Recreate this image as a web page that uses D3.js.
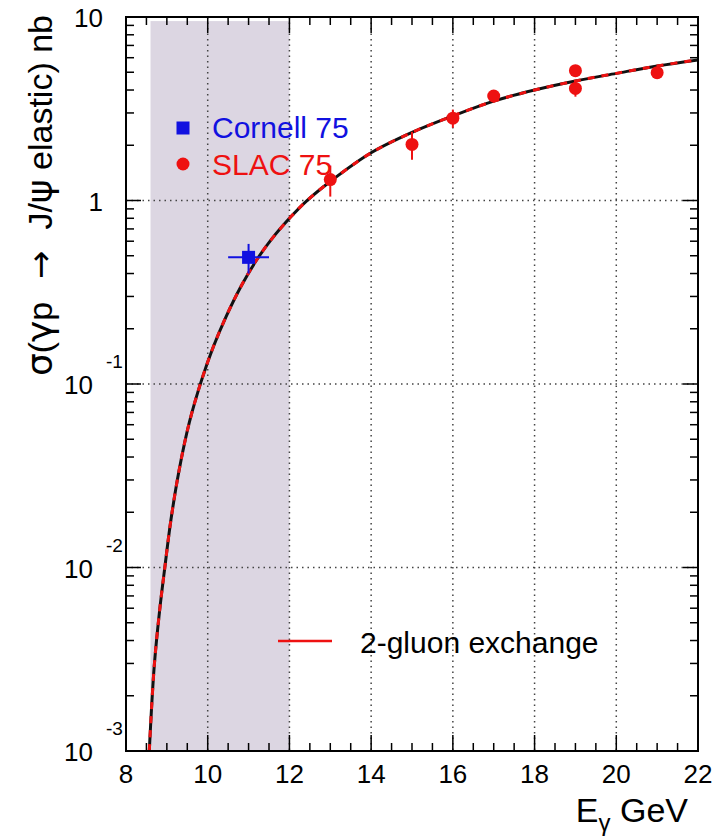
<!DOCTYPE html>
<html>
<head>
<meta charset="utf-8">
<script src="https://cdn.jsdelivr.net/npm/d3@7"></script>
<style>
  html, body { margin: 0; padding: 0; background: #fff; }
  svg { display: block; font-family: "Liberation Sans", Arial, Helvetica, sans-serif; }
</style>
</head>
<body>
<div id="chart"></div>
<script>
// data
const cornellE = [11];
const cornellSigma = [0.49];
const cornellErrE = [0.5];
const cornellErrSigma = [0.09];

const slacE = [13, 15, 16, 17, 19, 19, 21];
const slacSigma = [1.30, 2.02, 2.81, 3.71, 5.10, 4.08, 4.97];
const slacErrSigma = [0.25, 0.35, 0.32, 0.22, 0.3, 0.4, 0.2];

const gluonE = [8.57, 8.69, 8.82, 8.95, 9.10, 9.30, 9.55, 9.85, 10.14, 10.45, 10.81, 11.18, 11.55, 12.04, 12.41, 13, 14, 15, 16, 17, 18, 19, 20, 21, 22];
const gluonSigma = [0.001, 0.00288, 0.00575, 0.0100, 0.0182, 0.0339, 0.0617, 0.105, 0.160, 0.233, 0.339, 0.468, 0.610, 0.817, 0.99, 1.27, 1.82, 2.35, 2.89, 3.48, 4.0, 4.48, 4.93, 5.41, 5.84];

const bandE = [8.6, 12.0];
const bandTop = 9.5;

const xTickLabels = [8, 10, 12, 14, 16, 18, 20, 22];
const yDecades = [-3, -2, -1, 0, 1];

// layout
const width = 722, height = 840;
const pLeft = 126, pRight = 698, pTop = 17, pBottom = 751;
const red = '#ee1111', blue = '#1111e0';
const greek = '"DejaVu Sans", sans-serif';

let svg = d3.select('#chart').append('svg')
  .attr('width', width)
  .attr('height', height);

let x = d3.scaleLinear().domain([8, 22]).range([pLeft, pRight]);
let y = d3.scaleLog().domain([1e-3, 10]).range([pBottom, pTop]);

svg.append('clipPath').attr('id', 'plot-clip')
  .append('rect')
  .attr('x', pLeft).attr('y', pTop)
  .attr('width', pRight - pLeft).attr('height', pBottom - pTop);

// shaded band
svg.append('rect')
  .attr('x', x(bandE[0]))
  .attr('y', y(bandTop))
  .attr('width', x(bandE[1]) - x(bandE[0]))
  .attr('height', pBottom - y(bandTop))
  .attr('fill', '#dcd6e2');

// grid
let grid = svg.append('g')
  .attr('stroke', '#444')
  .attr('stroke-width', 1.5)
  .attr('stroke-dasharray', '1.5,4');
grid.selectAll('.gx')
  .data(xTickLabels.filter(d => d > 8 && d < 22))
  .enter().append('line')
  .attr('x1', d => x(d)).attr('x2', d => x(d))
  .attr('y1', pTop).attr('y2', pBottom);
grid.selectAll('.gy')
  .data(yDecades.filter(d => d > -3 && d < 1))
  .enter().append('line')
  .attr('x1', pLeft).attr('x2', pRight)
  .attr('y1', d => y(Math.pow(10, d))).attr('y2', d => y(Math.pow(10, d)));

// ticks on all four sides
let xTicks = d3.range(8, 22.001, 0.5);
let yTicks = [];
yDecades.forEach(function (d) {
  d3.range(1, 10).forEach(function (m) {
    let v = m * Math.pow(10, d);
    if (v <= 10.0001) yTicks.push({v: v, major: m === 1});
  });
});
let ticks = svg.append('g').attr('stroke', '#000').attr('stroke-width', 1.5);
xTicks.forEach(function (t) {
  let len = (t % 2 === 0) ? 16 : 8;
  ticks.append('line').attr('x1', x(t)).attr('x2', x(t)).attr('y1', pBottom).attr('y2', pBottom - len);
  ticks.append('line').attr('x1', x(t)).attr('x2', x(t)).attr('y1', pTop).attr('y2', pTop + len);
});
yTicks.forEach(function (t) {
  let len = t.major ? 15 : 8;
  ticks.append('line').attr('y1', y(t.v)).attr('y2', y(t.v)).attr('x1', pLeft).attr('x2', pLeft + len);
  ticks.append('line').attr('y1', y(t.v)).attr('y2', y(t.v)).attr('x1', pRight).attr('x2', pRight - len);
});

// 2-gluon exchange curve
let line = d3.line()
  .x((d, i) => x(gluonE[i]))
  .y(d => y(d))
  .curve(d3.curveCatmullRom.alpha(0.5));
let curveG = svg.append('g').attr('clip-path', 'url(#plot-clip)');
curveG.append('path')
  .attr('d', line(gluonSigma))
  .attr('fill', 'none')
  .attr('stroke', '#111')
  .attr('stroke-width', 3);
curveG.append('path')
  .attr('d', line(gluonSigma))
  .attr('fill', 'none')
  .attr('stroke', red)
  .attr('stroke-width', 3)
  .attr('stroke-dasharray', '7,7');

// frame
svg.append('rect')
  .attr('x', pLeft).attr('y', pTop)
  .attr('width', pRight - pLeft).attr('height', pBottom - pTop)
  .attr('fill', 'none')
  .attr('stroke', '#000')
  .attr('stroke-width', 2);

// SLAC points
let slac = svg.append('g');
slacE.forEach(function (e, i) {
  let s = slacSigma[i], err = slacErrSigma[i];
  slac.append('line')
    .attr('x1', x(e)).attr('x2', x(e))
    .attr('y1', y(s + err)).attr('y2', y(s - err))
    .attr('stroke', red).attr('stroke-width', 2);
  slac.append('circle')
    .attr('cx', x(e)).attr('cy', y(s))
    .attr('r', 6.5)
    .attr('fill', red);
});

// Cornell point
let cornell = svg.append('g');
cornellE.forEach(function (e, i) {
  let s = cornellSigma[i];
  cornell.append('line')
    .attr('x1', x(e - cornellErrE[i])).attr('x2', x(e + cornellErrE[i]))
    .attr('y1', y(s)).attr('y2', y(s))
    .attr('stroke', blue).attr('stroke-width', 2);
  cornell.append('line')
    .attr('x1', x(e)).attr('x2', x(e))
    .attr('y1', y(s + cornellErrSigma[i])).attr('y2', y(s - cornellErrSigma[i]))
    .attr('stroke', blue).attr('stroke-width', 2);
  cornell.append('rect')
    .attr('x', x(e) - 6.5).attr('y', y(s) - 6.5)
    .attr('width', 13).attr('height', 13)
    .attr('fill', blue);
});

// x tick labels
svg.append('g').selectAll('text')
  .data(xTickLabels)
  .enter().append('text')
  .attr('x', d => x(d))
  .attr('y', pBottom + 32)
  .attr('text-anchor', 'middle')
  .attr('font-size', 26)
  .text(d => d);

// y tick labels (10^n style)
let yLab = svg.append('g').attr('font-size', 26);
yDecades.forEach(function (d) {
  let yy = y(Math.pow(10, d));
  if (d >= 0) {
    yLab.append('text')
      .attr('x', 103).attr('y', yy + 10)
      .attr('text-anchor', 'end')
      .text(d === 0 ? '1' : '10');
  } else {
    yLab.append('text')
      .attr('x', 93).attr('y', yy + 10)
      .attr('text-anchor', 'end')
      .text('10');
    yLab.append('text')
      .attr('x', 106).attr('y', yy - 16)
      .attr('font-size', 19)
      .text(String(d));
  }
});

// axis titles
let xTitle = svg.append('text')
  .attr('x', 688).attr('y', 822)
  .attr('text-anchor', 'end')
  .attr('font-size', 34);
xTitle.append('tspan').text('E');
xTitle.append('tspan').attr('font-size', 24).attr('dy', 9).text('\u03b3');
xTitle.append('tspan').attr('dy', -9).text(' GeV');

let yTitle = svg.append('text')
  .attr('transform', 'translate(52,15) rotate(-90)')
  .attr('text-anchor', 'end')
  .attr('font-size', 34);
yTitle.append('tspan').attr('font-family', greek).attr('font-size', 36).text('\u03c3');
yTitle.append('tspan').text('(');
yTitle.append('tspan').attr('font-family', greek).attr('font-size', 36).text('\u03b3');
yTitle.append('tspan').text('p');
yTitle.append('tspan').attr('font-family', greek).attr('dx', 12).text(' \u2192 ');
yTitle.append('tspan').attr('dx', 10).text('J/');
yTitle.append('tspan').attr('font-family', greek).attr('font-size', 36).text('\u03c8');
yTitle.append('tspan').text(' elastic) nb');

// legend: data
let legend = svg.append('g').attr('font-size', 30);
legend.append('rect')
  .attr('x', 183 - 6.5).attr('y', 128 - 6.5)
  .attr('width', 13).attr('height', 13)
  .attr('fill', blue);
legend.append('text')
  .attr('x', 212).attr('y', 138)
  .attr('fill', blue)
  .text('Cornell 75');
legend.append('circle')
  .attr('cx', 183).attr('cy', 164)
  .attr('r', 6.5)
  .attr('fill', red);
legend.append('text')
  .attr('x', 212).attr('y', 175)
  .attr('fill', red)
  .text('SLAC 75');

// legend: curve
legend.append('line')
  .attr('x1', 278).attr('x2', 332)
  .attr('y1', 641).attr('y2', 641)
  .attr('stroke', red).attr('stroke-width', 2.5);
legend.append('text')
  .attr('x', 360).attr('y', 653)
  .attr('fill', '#000')
  .text('2-gluon exchange');
</script>
</body>
</html>
